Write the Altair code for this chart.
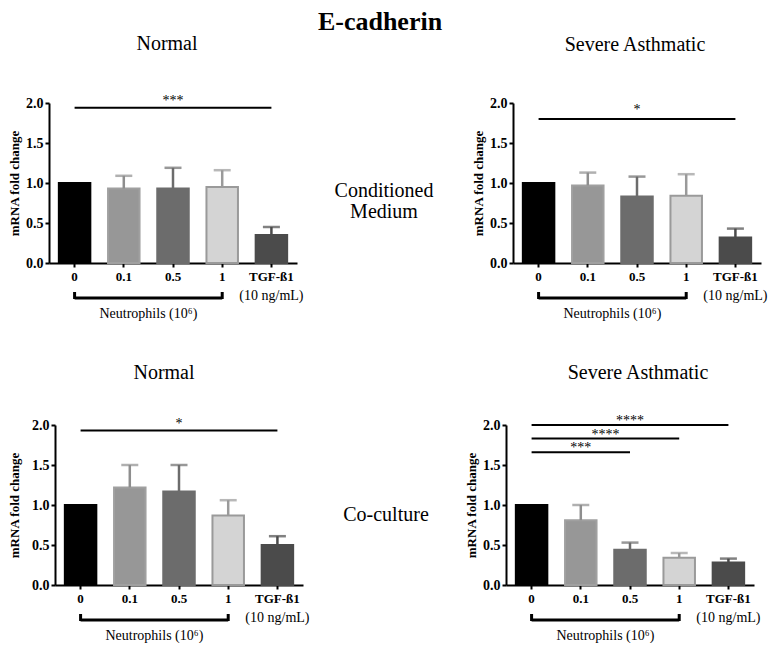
import altair as alt
import pandas as pd

FONT = "Liberation Serif"

cats = ["0", "0.1", "0.5", "1", "TGF-ß1"]
fills = ["#000000", "#979797", "#6c6c6c", "#d4d4d4", "#4b4b4b"]
strokes = ["#000000", "#a0a0a0", "#6c6c6c", "#9a9a9a", "#4b4b4b"]
errc = ["#000000", "#8e8e8e", "#6c6c6c", "#9a9a9a", "#4b4b4b"]

# Conditioned medium
tl_mean = [1.00, 0.93, 0.93, 0.95, 0.35]
tl_upper = [1.00, 1.09, 1.19, 1.16, 0.45]
tr_mean = [1.00, 0.97, 0.83, 0.84, 0.32]
tr_upper = [1.00, 1.13, 1.08, 1.11, 0.43]
# Co-culture
bl_mean = [1.00, 1.22, 1.17, 0.87, 0.50]
bl_upper = [1.00, 1.50, 1.50, 1.06, 0.61]
br_mean = [1.00, 0.81, 0.44, 0.34, 0.28]
br_upper = [1.00, 1.00, 0.53, 0.40, 0.33]

tl_sig_start = ["0"]
tl_sig_end = ["TGF-ß1"]
tl_sig_y = [1.94]
tl_sig_lab = ["***"]
tr_sig_start = ["0"]
tr_sig_end = ["TGF-ß1"]
tr_sig_y = [1.80]
tr_sig_lab = ["*"]
bl_sig_start = ["0"]
bl_sig_end = ["TGF-ß1"]
bl_sig_y = [1.93]
bl_sig_lab = ["*"]
br_sig_start = ["0", "0", "0"]
br_sig_end = ["TGF-ß1", "1", "0.5"]
br_sig_y = [2.00, 1.83, 1.66]
br_sig_lab = ["****", "****", "***"]

group_cats = ["0", "1"]
group_label = ["Neutrophils (10⁶)"]
tgf_note = ["(10 ng/mL)"]
y_ticks = [0, 0.5, 1.0, 1.5, 2.0]

W = 248
H = 160
GAP = 162
STEP = W / (len(cats) - 0.36 + 0.4)


def panel(means, uppers, s_start, s_end, s_y, s_lab, title, tdx, toff, ytp, sdy):
    xsc = alt.Scale(domain=cats, paddingInner=0.36, paddingOuter=0.2)
    ysc = alt.Scale(domain=[0, 2])
    xax = alt.Axis(title=None, labelAngle=0, labelFontSize=13, labelFontWeight="bold",
                   labelPadding=3)
    yax = alt.Axis(title="mRNA fold change", values=y_ticks, format=".1f",
                   labelFontSize=14, labelFontWeight="bold", titleFontSize=13,
                   titleFontWeight="bold", titlePadding=ytp, labelPadding=2)

    def X(f):
        return alt.X(f, scale=xsc, axis=xax, sort=cats)

    def Y(f):
        return alt.Y(f, scale=ysc, axis=yax)

    df = pd.DataFrame({"cat": cats, "mean": means, "upper": uppers})
    base = alt.Chart(df)
    bars = base.mark_bar(strokeWidth=2).encode(
        x=X("cat:N"), y=Y("mean:Q"),
        color=alt.Color("cat:N", scale=alt.Scale(domain=cats, range=fills), legend=None),
        stroke=alt.Stroke("cat:N", scale=alt.Scale(domain=cats, range=strokes), legend=None),
    )
    eb = base.transform_filter("datum.upper > datum.mean")
    ecol = alt.Color("cat:N", scale=alt.Scale(domain=cats, range=errc), legend=None)
    err_rule = eb.mark_rule(strokeWidth=2.5).encode(
        x=X("cat:N"), y=Y("mean:Q"), y2="upper:Q", color=ecol)
    err_cap = eb.mark_tick(size=17, thickness=2.5).encode(
        x=X("cat:N"), y=Y("upper:Q"), color=ecol)
    errs = alt.layer(err_rule, err_cap)

    sig = pd.DataFrame({"s": s_start, "e": s_end, "y": s_y, "t": s_lab})
    sig_rule = alt.Chart(sig).mark_rule(color="black", strokeWidth=2).encode(
        x=X("s:N"), x2="e:N", y=Y("y:Q"))
    layers = [bars, errs, sig_rule]
    for s, e, y, t in zip(s_start, s_end, s_y, s_lab):
        m = (cats.index(s) + cats.index(e)) / 2
        mid = cats[int(m)]
        dx = (m - int(m)) * STEP
        d = pd.DataFrame({"c": [mid], "y": [y], "t": [t]})
        layers.append(
            alt.Chart(d).mark_text(dx=dx, dy=sdy, baseline="alphabetic", fontSize=14,
                                   color="black").encode(
                x=X("c:N"), y=Y("y:Q"), text="t:N"))

    br = pd.DataFrame({"s": [group_cats[0]], "e": [group_cats[1]]})
    layers.append(alt.Chart(br).mark_rule(color="black", strokeWidth=3).encode(
        x=X("s:N"), x2="e:N", y=alt.value(H + 35)))
    ends = pd.DataFrame({"c": group_cats})
    layers.append(alt.Chart(ends).mark_rule(color="black", strokeWidth=3).encode(
        x=X("c:N"), y=alt.value(H + 29), y2=alt.value(H + 36)))
    gl = pd.DataFrame({"c": [cats[1]], "t": group_label})
    layers.append(alt.Chart(gl).mark_text(dx=STEP / 2, baseline="middle", fontSize=14,
                                          color="black").encode(
        x=X("c:N"), y=alt.value(H + 51), text="t:N"))
    tn = pd.DataFrame({"c": [cats[-1]], "t": tgf_note})
    layers.append(alt.Chart(tn).mark_text(baseline="middle", fontSize=14,
                                          color="black").encode(
        x=X("c:N"), y=alt.value(H + 33), text="t:N"))

    return alt.layer(*layers).resolve_scale(color="independent").properties(
        width=W, height=H,
        title=alt.Title(title, fontSize=20, fontWeight="normal", offset=toff, dx=tdx,
                        frame="group", anchor="middle", font=FONT, color="black"),
    )


def spacer(lines, width, height, xpos, ypos):
    d = pd.DataFrame({"t": ["\n".join(lines)]})
    return alt.Chart(d).mark_text(fontSize=20, lineBreak="\n", lineHeight=21,
                                  baseline="alphabetic", align="center",
                                  color="black").encode(
        text="t:N", x=alt.value(xpos), y=alt.value(ypos)).properties(width=width, height=height)


A = panel(tl_mean, tl_upper, tl_sig_start, tl_sig_end, tl_sig_y, tl_sig_lab,
          "Normal", -6, 40, 4, -3)
B = panel(tr_mean, tr_upper, tr_sig_start, tr_sig_end, tr_sig_y, tr_sig_lab,
          "Severe Asthmatic", -2, 41, 4, -5)
C = panel(bl_mean, bl_upper, bl_sig_start, bl_sig_end, bl_sig_y, bl_sig_lab,
          "Normal", -15, 34, 10, -3)
D = panel(br_mean, br_upper, br_sig_start, br_sig_end, br_sig_y, br_sig_lab,
          "Severe Asthmatic", 8, 31, 4, 0)

S1 = spacer(["Conditioned", "Medium"], 216, H, 87, 94)
S2 = spacer(["Co-culture"], 203, H, 83, 96)
P = spacer([""], 6, H, 0, 0)

row1 = alt.hconcat(A, S1, B, spacing=0, bounds="flush")
row2 = alt.hconcat(P, C, S2, D, spacing=0, bounds="flush")

# nested flush rows report no height of their own, so the spacing covers row 1 as well
chart = alt.vconcat(
    row1, row2, spacing=H + GAP, bounds="flush",
    title=alt.Title("E-cadherin", fontSize=26, fontWeight="bold", font=FONT,
                    anchor="middle", dx=-8, offset=-1, color="black"),
).properties(padding=0).configure_axis(
    domainColor="black", domainWidth=2, tickColor="black", tickWidth=2, tickSize=4,
    labelColor="black", titleColor="black", labelFont=FONT, titleFont=FONT, grid=False,
).configure_view(stroke=None).configure_text(font=FONT)

chart.save("out.html", embed_options={"renderer": "svg", "actions": False})
